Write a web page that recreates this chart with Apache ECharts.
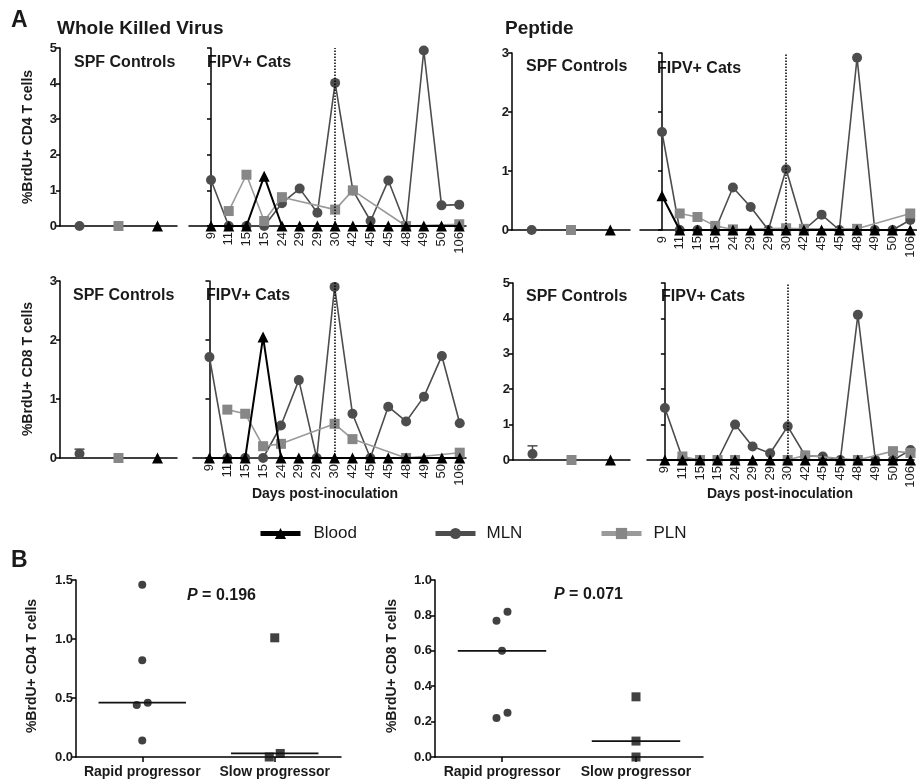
<!DOCTYPE html>
<html>
<head>
<meta charset="utf-8">
<script src="https://cdn.jsdelivr.net/npm/echarts@6/dist/echarts.min.js"></script>
<style>
  html, body { margin: 0; padding: 0; background: #fff; }
  #chart { width: 917px; height: 781px; }
</style>
</head>
<body>
<div id="chart"></div>
<script>
// days post-inoculation, one per FIPV+ cat
const days = ['9', '11', '15', '15', '24', '29', '29', '30', '42', '45', '45', '48', '49', '50', '106'];
const dottedDayIndex = 7; // the day-30 cat

// Whole killed virus, CD4
const wkvCd4Blood = [0, 0, 0, 1.4, 0, 0, 0, 0, 0, 0, 0, 0, 0, 0, 0];
const wkvCd4MLN = [1.29, 0, 0, 0, 0.64, 1.05, 0.37, 4.02, 1.0, 0.14, 1.28, 0, 4.93, 0.58, 0.6];
const wkvCd4PLN = [null, 0.42, 1.44, 0.14, 0.81, null, null, 0.46, 1.0, null, null, 0, null, null, 0.05];
// Whole killed virus, CD8
const wkvCd8Blood = [0, 0, 0, 2.05, 0, 0, 0, 0, 0, 0, 0, 0, 0, 0, 0];
const wkvCd8MLN = [1.71, 0, 0, 0, 0.55, 1.32, 0, 2.9, 0.75, 0, 0.87, 0.62, 1.04, 1.73, 0.59];
const wkvCd8PLN = [null, 0.82, 0.75, 0.2, 0.24, null, null, 0.58, 0.32, null, null, 0, null, null, 0.09];
// Peptide, CD4
const pepCd4Blood = [0.58, 0, 0, 0, 0, 0, 0, 0, 0, 0, 0, 0, 0, 0, 0];
const pepCd4MLN = [1.66, 0, 0, 0, 0.72, 0.39, 0, 1.03, 0, 0.26, 0, 2.92, 0, 0, 0.17];
const pepCd4PLN = [null, 0.28, 0.22, 0.07, 0.01, null, null, 0.03, 0.02, null, null, 0.02, null, null, 0.28];
// Peptide, CD8
const pepCd8Blood = [0, 0, 0, 0, 0, 0, 0, 0, 0, 0, 0, 0, 0, 0, 0];
const pepCd8MLN = [1.47, 0.05, 0, 0, 1.0, 0.38, 0.19, 0.95, 0.12, 0.1, 0, 4.1, 0, 0, 0.28];
const pepCd8PLN = [null, 0.1, 0, 0, 0, null, null, 0, 0.13, null, null, 0, null, 0.25, 0.2];

// SPF controls, order: MLN, PLN, Blood
const spfCats = ['MLN', 'PLN', 'Blood'];
const spfWkvCd4 = [0, 0, 0];
const spfWkvCd8 = [0.07, 0, 0];
const spfPepCd4 = [0, 0, 0];
const spfPepCd8 = [0.17, 0, 0];
const spfWkvCd8MlnSd = 0.08;
const spfPepCd8MlnSd = 0.23;

// panel B
const groups = ['Rapid progressor', 'Slow progressor'];
const rapidCd4 = [1.46, 0.82, 0.46, 0.44, 0.14];
const slowCd4 = [1.01, 0, 0.03];
const rapidCd8 = [0.82, 0.77, 0.6, 0.25, 0.22];
const slowCd8 = [0.34, 0.09, 0];

const FONT = "'Liberation Sans', Arial, Helvetica, sans-serif";
const INK = '#1a1a1a';
const C_BLOOD = '#000000';
const C_MLN = '#4d4d4d';
const C_PLN = '#878787';
const C_PLN_LINE = '#9a9a9a';

const grids = [];
const xAxes = [];
const yAxes = [];
const series = [];
const spfSeries = [];

const axisLine = { show: true, lineStyle: { color: '#000', width: 1.5 } };

function yAxisFor(gi, max, showLabels) {
  return {
    type: 'value', gridIndex: gi, min: 0, max: max, interval: 1,
    axisLine: axisLine,
    axisTick: { show: true, length: 4, lineStyle: { color: '#000', width: 1.5 } },
    axisLabel: { show: showLabels, fontFamily: FONT, fontWeight: 'bold', fontSize: 13, color: INK, margin: 3 },
    splitLine: { show: false }
  };
}

function toPoints(vals) {
  return vals.map((v, i) => (v == null ? null : [i, v])).filter(Boolean);
}

function addPanel(spfBox, fipvBox, yMax, xMin, xMax, spfVals, spfSd, blood, mln, pln) {
  // SPF controls
  const gs = grids.length;
  grids.push(spfBox);
  xAxes.push({
    type: 'category', gridIndex: gs, data: spfCats, boundaryGap: true,
    axisLine: axisLine, axisTick: { show: false }, axisLabel: { show: false }
  });
  yAxes.push(yAxisFor(gs, yMax, true));
  if (spfSd) {
    spfSeries.push({
      type: 'custom', xAxisIndex: gs, yAxisIndex: gs, z: 3,
      data: [[0, spfVals[0], spfVals[0] + spfSd]],
      renderItem: function (params, api) {
        const p0 = api.coord([api.value(0), api.value(1)]);
        const p1 = api.coord([api.value(0), api.value(2)]);
        const st = { stroke: C_MLN, lineWidth: 1.5 };
        return {
          type: 'group', children: [
            { type: 'line', shape: { x1: p0[0], y1: p0[1], x2: p1[0], y2: p1[1] }, style: st },
            { type: 'line', shape: { x1: p1[0] - 5, y1: p1[1], x2: p1[0] + 5, y2: p1[1] }, style: st }
          ]
        };
      }
    });
  }
  spfSeries.push(
    { type: 'line', name: 'MLN', xAxisIndex: gs, yAxisIndex: gs, z: 4, data: [[0, spfVals[0]]],
      symbol: 'circle', symbolSize: 10, itemStyle: { color: C_MLN }, lineStyle: { color: C_MLN } },
    { type: 'line', name: 'PLN', xAxisIndex: gs, yAxisIndex: gs, z: 4, data: [[1, spfVals[1]]],
      symbol: 'rect', symbolSize: 10, itemStyle: { color: C_PLN }, lineStyle: { color: C_PLN_LINE } },
    { type: 'line', name: 'Blood', xAxisIndex: gs, yAxisIndex: gs, z: 4, data: [[2, spfVals[2]]],
      symbol: 'triangle', symbolSize: 11, itemStyle: { color: C_BLOOD }, lineStyle: { color: C_BLOOD } }
  );

  // FIPV+ cats
  const gf = grids.length;
  grids.push(fipvBox);
  const idx = days.map((d, i) => i);
  xAxes.push({
    type: 'value', gridIndex: gf, min: xMin, max: xMax,
    axisLine: axisLine,
    axisTick: { show: false },
    splitLine: { show: false },
    axisLabel: {
      show: true, customValues: idx, rotate: 90, margin: 6,
      fontFamily: FONT, fontSize: 13, color: INK,
      formatter: v => days[Math.round(v)]
    }
  });
  yAxes.push(yAxisFor(gf, yMax, false));
  series.push(
    { type: 'line', name: 'MLN', xAxisIndex: gf, yAxisIndex: gf, z: 2, data: toPoints(mln),
      symbol: 'circle', symbolSize: 10, connectNulls: true,
      itemStyle: { color: C_MLN }, lineStyle: { color: C_MLN, width: 1.6 },
      markLine: {
        silent: true, symbol: ['none', 'none'], label: { show: false },
        lineStyle: { type: 'dotted', color: '#000', width: 1.5 },
        data: [{ xAxis: dottedDayIndex }]
      } },
    { type: 'line', name: 'PLN', xAxisIndex: gf, yAxisIndex: gf, z: 3, data: toPoints(pln),
      symbol: 'rect', symbolSize: 10, connectNulls: true,
      itemStyle: { color: C_PLN }, lineStyle: { color: C_PLN_LINE, width: 1.6 } },
    { type: 'line', name: 'Blood', xAxisIndex: gf, yAxisIndex: gf, z: 4, data: toPoints(blood),
      symbol: 'triangle', symbolSize: 11,
      itemStyle: { color: C_BLOOD }, lineStyle: { color: C_BLOOD, width: 2 } }
  );
}

addPanel({ left: 60, top: 48, width: 117, height: 178 }, { left: 189, top: 48, width: 277, height: 178 },
  5, -1.24, 14.38, spfWkvCd4, 0, wkvCd4Blood, wkvCd4MLN, wkvCd4PLN);
addPanel({ left: 512, top: 53, width: 118, height: 177 }, { left: 640, top: 53, width: 277, height: 177 },
  3, -1.24, 14.38, spfPepCd4, 0, pepCd4Blood, pepCd4MLN, pepCd4PLN);
addPanel({ left: 60, top: 281, width: 117, height: 177 }, { left: 193, top: 281, width: 273, height: 177 },
  3, -0.92, 14.35, spfWkvCd8, spfWkvCd8MlnSd, wkvCd8Blood, wkvCd8MLN, wkvCd8PLN);
addPanel({ left: 513, top: 283, width: 117, height: 177 }, { left: 647, top: 283, width: 270, height: 177 },
  5, -1.02, 14.2, spfPepCd8, spfPepCd8MlnSd, pepCd8Blood, pepCd8MLN, pepCd8PLN);

// panel B
function median(vals) {
  const s = vals.slice().sort((a, b) => a - b);
  const m = Math.floor(s.length / 2);
  return s.length % 2 ? s[m] : (s[m - 1] + s[m]) / 2;
}

function jitter(vals, tol) {
  const offs = vals.map(() => 0);
  const order = vals.map((v, i) => i).sort((a, b) => vals[a] - vals[b]);
  for (let k = 0; k < order.length - 1; k++) {
    if (vals[order[k + 1]] - vals[order[k]] < tol) {
      offs[order[k]] = -5.5;
      offs[order[k + 1]] = 5.5;
      k++;
    }
  }
  return offs;
}

function addDotPlot(box, yMax, interval, rapid, slow) {
  const g = grids.length;
  grids.push(box);
  xAxes.push({
    type: 'category', gridIndex: g, data: groups, boundaryGap: true,
    axisLine: axisLine,
    axisTick: { show: true, alignWithLabel: true, length: 5, lineStyle: { color: '#000', width: 1.5 } },
    axisLabel: { interval: 0, hideOverlap: false, fontFamily: FONT, fontWeight: 'bold', fontSize: 14, color: INK, margin: 8 }
  });
  yAxes.push({
    type: 'value', gridIndex: g, min: 0, max: yMax, interval: interval,
    axisLine: axisLine,
    axisTick: { show: true, length: 4, lineStyle: { color: '#000', width: 1.5 } },
    axisLabel: { fontFamily: FONT, fontWeight: 'bold', fontSize: 13, color: INK, margin: 3,
      formatter: v => v.toFixed(1) },
    splitLine: { show: false }
  });
  const tol = 0.06 * yMax;
  const jr = jitter(rapid, tol);
  const js = jitter(slow, tol);
  series.push(
    { type: 'scatter', xAxisIndex: g, yAxisIndex: g, symbol: 'circle', symbolSize: 8,
      itemStyle: { color: '#111' },
      data: rapid.map((v, i) => ({ value: [0, v], symbolOffset: [jr[i], 0] })) },
    { type: 'scatter', xAxisIndex: g, yAxisIndex: g, symbol: 'rect', symbolSize: 9,
      itemStyle: { color: '#111' },
      data: slow.map((v, i) => ({ value: [1, v], symbolOffset: [js[i], 0] })) },
    { type: 'custom', xAxisIndex: g, yAxisIndex: g, z: 3,
      data: [[0, median(rapid)], [1, median(slow)]],
      renderItem: function (params, api) {
        const c = api.coord([api.value(0), api.value(1)]);
        const half = api.size([1, 0])[0] * 0.33;
        return { type: 'line', shape: { x1: c[0] - half, y1: c[1], x2: c[0] + half, y2: c[1] },
          style: { stroke: '#111', lineWidth: 1.8 } };
      } }
  );
}

addDotPlot({ left: 76, top: 580, width: 265, height: 177 }, 1.5, 0.5, rapidCd4, slowCd4);
addDotPlot({ left: 435, top: 580, width: 268, height: 177 }, 1.0, 0.2, rapidCd8, slowCd8);

function txt(x, y, text, size, opts) {
  return Object.assign({
    type: 'text', x: x, y: y, silent: true,
    style: Object.assign({
      text: text, fontFamily: FONT, fontSize: size, fontWeight: 'bold', fill: INK,
      textAlign: 'left', textVerticalAlign: 'middle'
    }, (opts && opts.style) || {})
  }, (opts && opts.el) || {});
}

function yName(x, y, text) {
  return txt(x, y, text, 14, { style: { textAlign: 'center' }, el: { rotation: Math.PI / 2 } });
}

function pText(x, y, value) {
  return txt(x, y, '{i|P} = ' + value, 16, {
    style: { rich: { i: { fontFamily: FONT, fontSize: 16, fontWeight: 'bold', fontStyle: 'italic', fill: INK } } }
  });
}

const graphics = [
  txt(11, 21, 'A', 23),
  txt(57, 29, 'Whole Killed Virus', 19),
  txt(505, 29, 'Peptide', 19),
  txt(74, 63, 'SPF Controls', 16),
  txt(207, 63, 'FIPV+ Cats', 16),
  txt(526, 67, 'SPF Controls', 16),
  txt(657, 69, 'FIPV+ Cats', 16),
  txt(73, 296, 'SPF Controls', 16),
  txt(206, 296, 'FIPV+ Cats', 16),
  txt(526, 297, 'SPF Controls', 16),
  txt(661, 297, 'FIPV+ Cats', 16),
  txt(325, 494, 'Days post-inoculation', 14, { style: { textAlign: 'center' } }),
  txt(780, 494, 'Days post-inoculation', 14, { style: { textAlign: 'center' } }),
  yName(28, 137, '%BrdU+ CD4 T cells'),
  yName(28, 369, '%BrdU+ CD8 T cells'),
  txt(11, 561, 'B', 23),
  yName(32, 666, '%BrdU+ CD4 T cells'),
  yName(392, 666, '%BrdU+ CD8 T cells'),
  pText(187, 596, '0.196'),
  pText(554, 595, '0.071')
];

function legendAt(name, left, pad) {
  return {
    data: [name], left: left, top: 520, itemWidth: 40, itemHeight: 14,
    selectedMode: false,
    lineStyle: { width: 5 },
    textStyle: { fontFamily: FONT, fontSize: 17, color: INK, padding: [0, 0, 0, pad] }
  };
}

const chart = echarts.init(document.getElementById('chart'), null, { renderer: 'canvas' });
chart.setOption({
  animation: false,
  backgroundColor: '#fff',
  grid: grids,
  xAxis: xAxes,
  yAxis: yAxes,
  legend: [legendAt('Blood', 253, 8), legendAt('MLN', 428, 6), legendAt('PLN', 594, 7)],
  series: series.concat(spfSeries),
  graphic: graphics
});
</script>
</body>
</html>
